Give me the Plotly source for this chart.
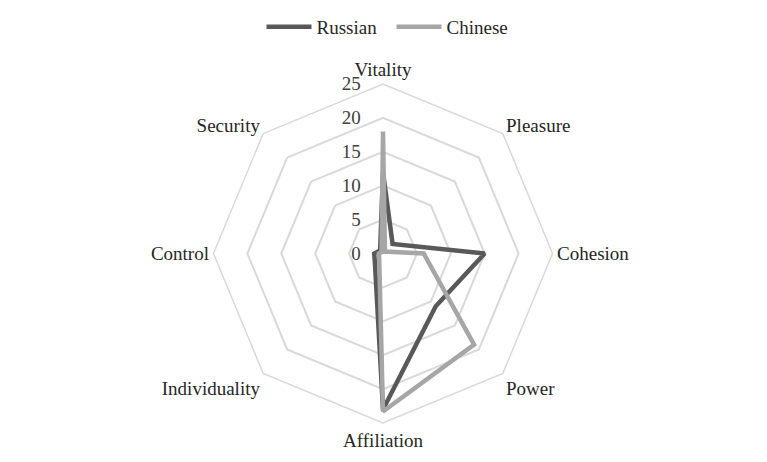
import plotly.graph_objects as go

categories = ["Vitality", "Pleasure", "Cohesion", "Power",
              "Affiliation", "Individuality", "Control", "Security"]
russian = [12, 2, 15, 11, 23, 1.7, 1.3, 0.6]
chinese = [18, 0.4, 6, 19, 23.3, 0.8, 0.6, 0.3]

font_family = "Liberation Serif, Times New Roman, serif"

fig = go.Figure()

# close the loop by repeating the first point
fig.add_trace(go.Scatterpolar(
    r=russian + russian[:1], theta=categories + categories[:1],
    mode="lines", name="Russian",
    line=dict(color="#595959", width=4.5),
))
fig.add_trace(go.Scatterpolar(
    r=chinese + chinese[:1], theta=categories + categories[:1],
    mode="lines", name="Chinese",
    line=dict(color="#A6A6A6", width=4.5),
))

fig.update_layout(
    width=767, height=462,
    margin=dict(l=205, r=222, t=76, b=47),
    paper_bgcolor="white",
    font=dict(family=font_family, size=19, color="#262626"),
    showlegend=True,
    legend=dict(orientation="h", x=0.5, xanchor="center", xref="container",
                y=1.0, yanchor="top", yref="container",
                entrywidth=70, itemwidth=45, bgcolor="rgba(0,0,0,0)",
                font=dict(size=19)),
    polar=dict(
        bgcolor="white",
        gridshape="linear",
        domain=dict(x=[0, 1], y=[0, 1]),
        angularaxis=dict(
            rotation=90, direction="clockwise",
            showgrid=False, showline=True, linecolor="#D9D9D9", linewidth=1.5,
            ticks="", tickfont=dict(size=19, color="#262626"),
        ),
        radialaxis=dict(
            range=[0, 25], dtick=5, angle=90, tickangle=90,
            showline=False, ticks="", side="counterclockwise",
            ticksuffix="\u2002\u2002",
            gridcolor="#D9D9D9", gridwidth=1.5,
            tickfont=dict(size=19, color="#404040"),
        ),
    ),
)

fig.write_html("out.html")
